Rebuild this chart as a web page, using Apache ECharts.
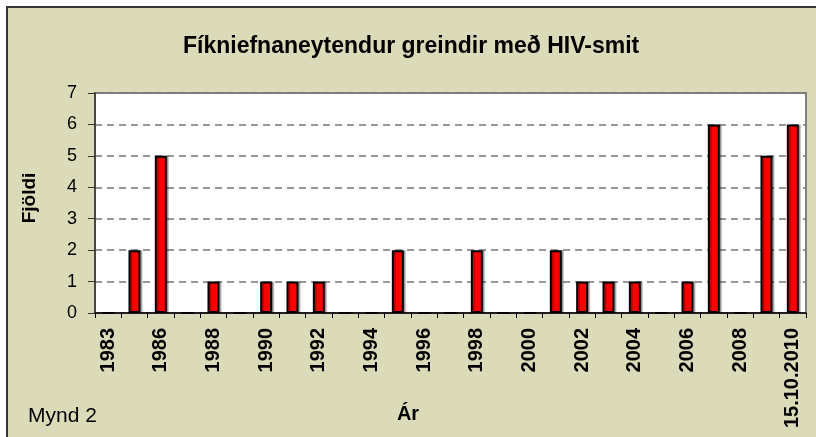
<!DOCTYPE html>
<html>
<head>
<meta charset="utf-8">
<script src="https://cdn.jsdelivr.net/npm/echarts@6/dist/echarts.min.js"></script>
<style>
  html, body { margin: 0; padding: 0; background: #ffffff; }
  #chart { width: 816px; height: 437px; }
</style>
</head>
<body>
<div id="chart"></div>
<script>
// ár (first category is 1983, then 1985 onwards; last one is up to 15.10.2010)
const categories = ['1983', '1985', '1986', '1987', '1988', '1989', '1990', '1991', '1992',
  '1993', '1994', '1995', '1996', '1997', '1998', '1999', '2000', '2001', '2002', '2003',
  '2004', '2005', '2006', '2007', '2008', '2009', '15.10.2010'];
// fjöldi greindra
const counts = [0, 2, 5, 0, 1, 0, 1, 1, 1, 0, 0, 2, 0, 0, 2, 0, 0, 2, 1, 1, 1, 0, 1, 6, 0, 5, 6];
const yTicks = [0, 1, 2, 3, 4, 5, 6, 7];

const titleText = 'Fíkniefnaneytendur greindir með HIV-smit';
const FONT = '"Liberation Sans", Arial, sans-serif';

const chart = echarts.init(document.getElementById('chart'));

const option = {
  backgroundColor: '#ffffff',
  animation: false,
  graphic: [
    {
      type: 'rect',
      z: -10,
      shape: { x: 7, y: 7, width: 900, height: 500 },
      style: { fill: '#dbdab9', stroke: '#333333', lineWidth: 2 }
    },
    {
      type: 'text',
      x: 30, y: 198,
      rotation: Math.PI / 2,
      style: {
        text: 'Fjöldi', fill: '#000', font: 'bold 19px ' + FONT,
        align: 'center', verticalAlign: 'middle'
      }
    },
    {
      type: 'text',
      x: 408, y: 414,
      style: {
        text: 'Ár', fill: '#000', font: 'bold 20px ' + FONT,
        align: 'center', verticalAlign: 'middle'
      }
    },
    {
      type: 'text',
      x: 28, y: 416,
      style: {
        text: 'Mynd 2', fill: '#000', font: '21px ' + FONT,
        align: 'left', verticalAlign: 'middle'
      }
    }
  ],
  title: {
    text: titleText,
    left: 183,
    top: 35,
    padding: 0,
    textStyle: { fontFamily: FONT, fontSize: 23, fontWeight: 'bold', color: '#000' }
  },
  grid: {
    left: 95, right: 10, top: 93, bottom: 124,
    show: true,
    backgroundColor: '#ffffff',
    borderColor: '#808080',
    borderWidth: 2
  },
  xAxis: {
    type: 'category',
    data: categories,
    axisLine: { lineStyle: { color: '#000', width: 1.5 } },
    axisTick: { show: true, length: 5, interval: 0, lineStyle: { color: '#000', width: 1 } },
    axisLabel: {
      interval: 1,
      rotate: 90,
      margin: 15,
      color: '#000',
      fontFamily: FONT,
      fontSize: 20,
      fontWeight: 'bold'
    },
    splitLine: { show: false }
  },
  yAxis: {
    type: 'value',
    min: yTicks[0],
    max: yTicks[yTicks.length - 1],
    interval: 1,
    axisLine: { show: true, lineStyle: { color: '#333', width: 1.5 } },
    axisTick: { show: true, length: 7, lineStyle: { color: '#333', width: 1 } },
    axisLabel: {
      margin: 18,
      color: '#000',
      fontFamily: FONT,
      fontSize: 18
    },
    splitLine: {
      show: true,
      lineStyle: { color: '#777777', type: [7, 5], width: 1.5 }
    }
  },
  series: [
    {
      type: 'bar',
      data: counts,
      barWidth: 12,
      itemStyle: {
        color: '#ff0000',
        borderColor: '#000000',
        borderWidth: 2,
        shadowColor: 'rgba(0,0,0,0.25)',
        shadowOffsetX: 2,
        shadowOffsetY: 0,
        shadowBlur: 0
      }
    }
  ]
};

chart.setOption(option);
</script>
</body>
</html>
